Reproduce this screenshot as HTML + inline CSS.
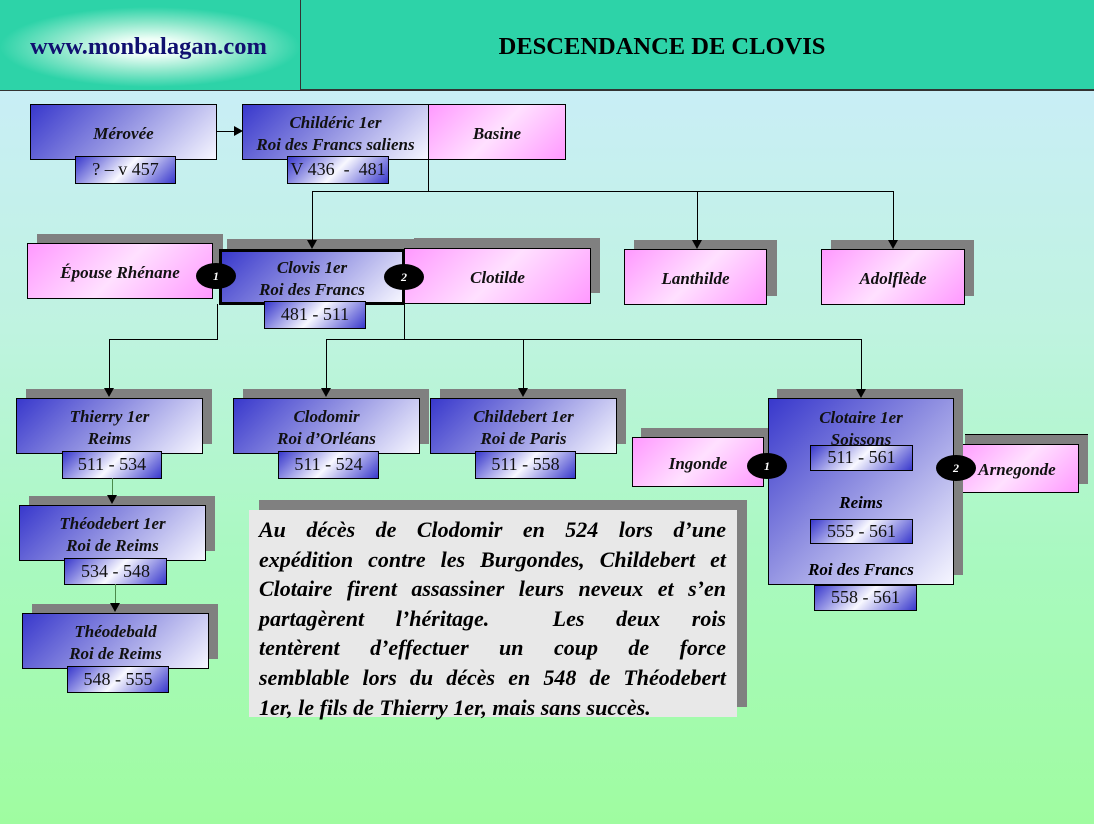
<!DOCTYPE html>
<html><head><meta charset="utf-8"><style>
*{margin:0;padding:0;box-sizing:border-box}
body{width:1094px;height:824px;position:relative;overflow:hidden;font-family:"Liberation Serif",serif;background:linear-gradient(180deg,#c9eef6 90px,#bff3e0 330px,#a9f9c0 560px,#9ffca0 824px)}
.a{position:absolute}
.hdr{left:0;top:0;width:1094px;height:91px;background:#2dd3a8;border-bottom:2px solid #333}
.logo{left:0;top:0;width:301px;height:90px;background:radial-gradient(ellipse 150px 40px at 150px 47px,#f0fff8 20%,#8fe8cc 60%,#2dd3a8 100%);border-right:1px solid #333}
.sh{position:absolute;background:#808080}
.b{position:absolute;border:1px solid #000;background:linear-gradient(135deg,#3838cc 0%,#8c8ce0 45%,#f6f6ff 100%);display:flex;flex-direction:column;justify-content:center;align-items:center;font-weight:bold;font-style:italic;font-size:17px;line-height:22px;color:#111;text-align:center;padding-top:3px}
.p{background:linear-gradient(135deg,#ff99ff 0%,#ffe0ff 50%,#ff99ff 100%)}
.d{position:absolute;border:1px solid #000;background:linear-gradient(135deg,#3838cc 0%,#f8f8ff 50%,#3838cc 100%);font-size:18px;text-align:center;line-height:25px;color:#111;z-index:3}
.l{position:absolute;background:#000;z-index:6}
.ar{position:absolute;width:0;height:0;border-left:5px solid transparent;border-right:5px solid transparent;border-top:9px solid #000;z-index:6}
.e{position:absolute;width:40px;height:26px;border-radius:50%;background:#000;color:#fff;font-weight:bold;font-style:italic;font-size:12px;text-align:center;line-height:26px;z-index:7}
.txt{left:249px;top:510px;width:488px;height:207px;background:#e8e8e8;padding:5px 11px 0 10px;font-weight:bold;font-style:italic;font-size:22px;line-height:29.6px;color:#000}
.txt div{text-align:justify;text-align-last:justify;white-space:nowrap}
</style></head><body>
<div class="a hdr"></div>
<div class="a logo"></div>
<div class="a" style="left:30px;top:33px;font-weight:bold;font-size:24.5px;color:#101070">www.monbalagan.com</div>
<div class="a" style="left:302px;top:33px;width:720px;text-align:center;font-weight:bold;font-size:24.5px;color:#000">DESCENDANCE DE CLOVIS</div>

<div class="l" style="left:216px;top:131px;width:20px;height:1px"></div>
<div class="a" style="left:234px;top:126px;width:0;height:0;border-top:5px solid transparent;border-bottom:5px solid transparent;border-left:9px solid #000;z-index:6"></div>
<div class="l" style="left:428px;top:142px;width:1px;height:50px"></div>
<div class="l" style="left:312px;top:191px;width:582px;height:1px"></div>
<div class="l" style="left:312px;top:191px;width:1px;height:50px"></div><div class="ar" style="left:307px;top:240px"></div>
<div class="l" style="left:697px;top:191px;width:1px;height:50px"></div><div class="ar" style="left:692px;top:240px"></div>
<div class="l" style="left:893px;top:191px;width:1px;height:50px"></div><div class="ar" style="left:888px;top:240px"></div>

<div class="l" style="left:217px;top:304px;width:1px;height:36px"></div>
<div class="l" style="left:109px;top:339px;width:109px;height:1px"></div>
<div class="l" style="left:109px;top:339px;width:1px;height:50px"></div><div class="ar" style="left:104px;top:388px"></div>
<div class="l" style="left:404px;top:304px;width:1px;height:36px"></div>
<div class="l" style="left:326px;top:339px;width:536px;height:1px"></div>
<div class="l" style="left:326px;top:339px;width:1px;height:50px"></div><div class="ar" style="left:321px;top:388px"></div>
<div class="l" style="left:523px;top:339px;width:1px;height:50px"></div><div class="ar" style="left:518px;top:388px"></div>
<div class="l" style="left:861px;top:339px;width:1px;height:51px"></div><div class="ar" style="left:856px;top:389px"></div>
<div class="l" style="left:112px;top:478px;width:1px;height:20px;background:#4a8a4a"></div><div class="ar" style="left:107px;top:495px"></div>
<div class="l" style="left:115px;top:584px;width:1px;height:22px;background:#4a8a4a"></div><div class="ar" style="left:110px;top:603px"></div>

<div class="b" style="left:30px;top:104px;width:187px;height:56px">Mérovée</div>
<div class="d" style="left:75px;top:156px;width:101px;height:28px">? – v 457</div>
<div class="b" style="left:242px;top:104px;width:187px;height:56px">Childéric 1er<br>Roi des Francs saliens</div>
<div class="b p" style="left:428px;top:104px;width:138px;height:56px">Basine</div>
<div class="d" style="left:287px;top:156px;width:102px;height:28px">V 436 &nbsp;- &nbsp;481</div>

<div class="sh" style="left:37px;top:234px;width:186px;height:55px"></div>
<div class="b p" style="left:27px;top:243px;width:186px;height:56px">Épouse Rhénane</div>
<div class="sh" style="left:227px;top:239px;width:187px;height:55px"></div>
<div class="sh" style="left:414px;top:238px;width:186px;height:55px"></div>
<div class="b p" style="left:404px;top:248px;width:187px;height:56px">Clotilde</div>
<div class="b" style="left:219px;top:249px;width:186px;height:56px;border:3px solid #000">Clovis 1er<br>Roi des Francs</div>
<div class="d" style="left:264px;top:301px;width:102px;height:28px">481 - 511</div>
<div class="e" style="left:196px;top:263px">1</div>
<div class="e" style="left:384px;top:264px">2</div>
<div class="sh" style="left:634px;top:240px;width:143px;height:56px"></div>
<div class="b p" style="left:624px;top:249px;width:143px;height:56px">Lanthilde</div>
<div class="sh" style="left:831px;top:240px;width:143px;height:56px"></div>
<div class="b p" style="left:821px;top:249px;width:144px;height:56px">Adolflède</div>

<div class="sh" style="left:26px;top:389px;width:186px;height:55px"></div>
<div class="b" style="left:16px;top:398px;width:187px;height:56px">Thierry 1er<br>Reims</div>
<div class="d" style="left:62px;top:451px;width:100px;height:28px">511 - 534</div>
<div class="sh" style="left:243px;top:389px;width:186px;height:55px"></div>
<div class="b" style="left:233px;top:398px;width:187px;height:56px">Clodomir<br>Roi d’Orléans</div>
<div class="d" style="left:278px;top:451px;width:101px;height:28px">511 - 524</div>
<div class="sh" style="left:440px;top:389px;width:186px;height:55px"></div>
<div class="b" style="left:430px;top:398px;width:187px;height:56px">Childebert 1er<br>Roi de Paris</div>
<div class="d" style="left:475px;top:451px;width:101px;height:28px">511 - 558</div>

<div class="sh" style="left:641px;top:428px;width:132px;height:48px"></div>
<div class="b p" style="left:632px;top:437px;width:132px;height:50px">Ingonde</div>
<div class="sh" style="left:965px;top:434px;width:123px;height:50px;border-top:1px solid #000"></div>
<div class="b p" style="left:955px;top:444px;width:124px;height:49px">Arnegonde</div>
<div class="sh" style="left:777px;top:389px;width:186px;height:186px"></div>
<div class="b" style="left:768px;top:398px;width:186px;height:187px;justify-content:flex-start;padding-top:8px">Clotaire 1er<br>Soissons</div>
<div class="d" style="left:810px;top:445px;width:103px;height:26px;line-height:23px">511 - 561</div>
<div class="a" style="left:768px;top:493px;width:186px;text-align:center;font-weight:bold;font-style:italic;font-size:17px">Reims</div>
<div class="d" style="left:810px;top:519px;width:103px;height:25px;line-height:23px">555 - 561</div>
<div class="a" style="left:768px;top:560px;width:186px;text-align:center;font-weight:bold;font-style:italic;font-size:17px">Roi des Francs</div>
<div class="d" style="left:814px;top:585px;width:103px;height:26px;line-height:23px">558 - 561</div>
<div class="e" style="left:747px;top:453px">1</div>
<div class="e" style="left:936px;top:455px">2</div>

<div class="sh" style="left:29px;top:496px;width:186px;height:55px"></div>
<div class="b" style="left:19px;top:505px;width:187px;height:56px">Théodebert 1er<br>Roi de Reims</div>
<div class="d" style="left:64px;top:558px;width:103px;height:27px">534 - 548</div>
<div class="sh" style="left:32px;top:604px;width:186px;height:55px"></div>
<div class="b" style="left:22px;top:613px;width:187px;height:56px">Théodebald<br>Roi de Reims</div>
<div class="d" style="left:67px;top:666px;width:102px;height:27px">548 - 555</div>

<div class="sh" style="left:259px;top:500px;width:488px;height:207px"></div>
<div class="a txt">
<div>Au décès de Clodomir en 524 lors d’une</div>
<div>expédition contre les Burgondes, Childebert et</div>
<div>Clotaire firent assassiner leurs neveux et s’en</div>
<div>partagèrent l’héritage. &nbsp;Les deux rois</div>
<div>tentèrent d’effectuer un coup de force</div>
<div>semblable lors du décès en 548 de Théodebert</div>
<div style="text-align-last:left">1er, le fils de Thierry 1er, mais sans succès.</div>
</div>
</body></html>
